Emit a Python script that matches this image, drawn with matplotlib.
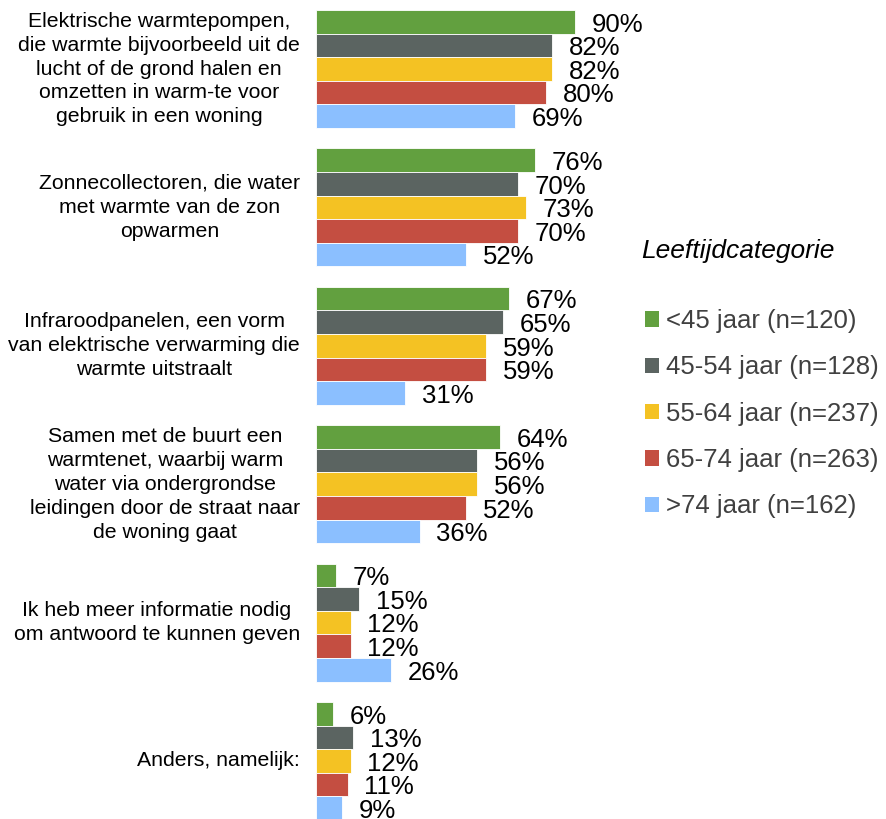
import matplotlib
matplotlib.use("Agg")
import matplotlib.pyplot as plt
from matplotlib.patches import Patch

plt.rcParams["font.family"] = ["Liberation Sans", "DejaVu Sans"]

categories = [
    "Elektrische warmtepompen,\ndie warmte bijvoorbeeld uit de\nlucht of de grond halen en\nomzetten in warm-te voor\ngebruik in een woning",
    "Zonnecollectoren, die water\nmet warmte van de zon\nopwarmen",
    "Infraroodpanelen, een vorm\nvan elektrische verwarming die\nwarmte uitstraalt",
    "Samen met de buurt een\nwarmtenet, waarbij warm\nwater via ondergrondse\nleidingen door de straat naar\nde woning gaat",
    "Ik heb meer informatie nodig\nom antwoord te kunnen geven",
    "Anders, namelijk:",
]
age_groups = ["<45 jaar (n=120)", "45-54 jaar (n=128)", "55-64 jaar (n=237)",
              "65-74 jaar (n=263)", ">74 jaar (n=162)"]
pct_lt45 = [90, 76, 67, 64, 7, 6]
pct_45_54 = [82, 70, 65, 56, 15, 13]
pct_55_64 = [82, 73, 59, 56, 12, 12]
pct_65_74 = [80, 70, 59, 52, 12, 11]
pct_gt74 = [69, 52, 31, 36, 26, 9]
series = [pct_lt45, pct_45_54, pct_55_64, pct_65_74, pct_gt74]
colors = ["#62A03F", "#5B6461", "#F4C223", "#C44E41", "#8BBFFF"]

W, H = 887, 819
BAR_PX = 23.6            # bar thickness in pixels
PERIOD = 138.4 / BAR_PX  # group spacing in bar units
TOP0 = 10 / BAR_PX

fig = plt.figure(figsize=(W / 100, H / 100), dpi=100)
ax = fig.add_axes([316 / W, 0, 288 / W, 1])
ax.set_xlim(0, 100)
ax.set_ylim(H / BAR_PX, 0)
ax.axis("off")

for j, (vals, col) in enumerate(zip(series, colors)):
    ys = [TOP0 + i * PERIOD + j + 0.5 for i in range(len(categories))]
    ax.barh(ys, vals, height=1.0, color=col, edgecolor="white", linewidth=0.6)
    for y, v in zip(ys, vals):
        ax.annotate(f"{v}%", xy=(v, y), xytext=(12, -2), textcoords="offset points",
                    ha="left", va="center", fontsize=18.5, color="black")

for i, cat in enumerate(categories):
    yc = TOP0 + i * PERIOD + 2.5
    ax.annotate(cat, xy=(0, yc), xytext=(-11.5, 0), textcoords="offset points",
                ha="right", va="center", multialignment="center",
                fontsize=15.3, linespacing=1.33, color="black")

fig.text(641 / W, 1 - 251 / H, "Leeftijdcategorie", fontsize=19, style="italic",
         ha="left", va="center", color="black")

handles = [Patch(facecolor=c, edgecolor="none") for c in colors]
fig.legend(handles, age_groups, loc="upper left", bbox_to_anchor=(645 / W, 1 - 309 / H),
           frameon=False, fontsize=18.5, labelcolor="#404040",
           handlelength=0.55, handleheight=0.55, handletextpad=0.28,
           labelspacing=0.87, borderpad=0, borderaxespad=0)

fig.savefig("out.png", dpi=100)
